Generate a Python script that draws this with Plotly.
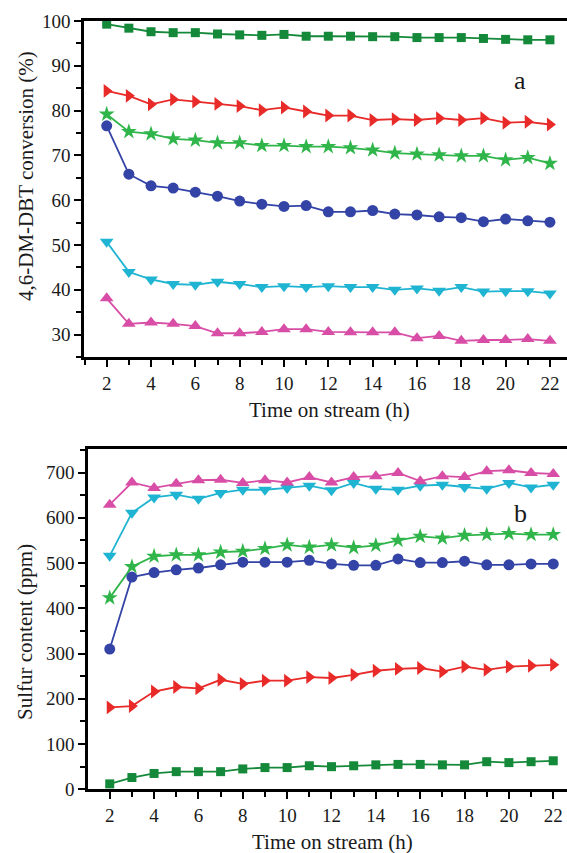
import plotly.graph_objects as go

hours = list(range(2, 23))

# Panel a: 4,6-DM-DBT conversion (%)
conv_sq = [99.3, 98.4, 97.6, 97.4, 97.4, 97.1, 96.9, 96.8, 97.0, 96.6, 96.6, 96.6, 96.5, 96.5, 96.3, 96.3, 96.3, 96.1, 95.9, 95.8, 95.8]
conv_tri_r = [84.4, 83.3, 81.4, 82.5, 82.0, 81.5, 81.0, 80.1, 80.7, 79.8, 78.9, 78.9, 77.9, 78.1, 77.9, 78.3, 77.9, 78.3, 77.3, 77.5, 76.9]
conv_star = [79.2, 75.3, 74.8, 73.7, 73.4, 72.8, 72.8, 72.2, 72.2, 71.95, 71.95, 71.7, 71.2, 70.5, 70.3, 70.1, 69.9, 69.9, 69.0, 69.5, 68.2]
conv_circ = [76.6, 65.8, 63.2, 62.7, 61.8, 60.9, 59.8, 59.1, 58.6, 58.8, 57.4, 57.4, 57.7, 56.9, 56.7, 56.3, 56.1, 55.2, 55.8, 55.4, 55.1]
conv_tri_d = [50.7, 44.0, 42.3, 41.3, 41.1, 41.8, 41.3, 40.6, 40.8, 40.6, 40.8, 40.6, 40.6, 40.0, 40.3, 39.8, 40.6, 39.6, 39.7, 39.7, 39.2]
conv_tri_u = [38.1, 32.4, 32.7, 32.4, 31.9, 30.3, 30.3, 30.6, 31.2, 31.2, 30.6, 30.5, 30.5, 30.5, 29.2, 29.7, 28.6, 28.8, 28.8, 29.0, 28.6]

# Panel b: Sulfur content (ppm)
sulf_sq = [12, 26, 35, 39, 39, 39, 45, 48, 48, 52, 50, 52, 54, 55, 55, 54, 54, 61, 59, 61, 63]
sulf_tri_r = [181, 184, 216, 226, 223, 242, 233, 240, 240, 248, 246, 253, 262, 266, 268, 260, 271, 264, 271, 273, 275]
sulf_star = [423, 492, 515, 518, 518, 524, 526, 532, 540, 535, 540, 534, 539, 550, 559, 555, 561, 563, 565, 563, 563]
sulf_circ = [310, 469, 479, 485, 489, 496, 502, 502, 502, 506, 498, 495, 495, 509, 501, 501, 504, 496, 496, 498, 498]
sulf_tri_d = [516, 611, 645, 651, 642, 655, 662, 662, 666, 671, 661, 677, 664, 662, 671, 673, 668, 664, 677, 667, 673]
sulf_tri_u = [629, 678, 666, 675, 683, 684, 677, 683, 678, 690, 678, 690, 692, 699, 681, 692, 690, 703, 705, 699, 697]

x_ticks = [2, 4, 6, 8, 10, 12, 14, 16, 18, 20, 22]
conv_ticks = [30, 40, 50, 60, 70, 80, 90, 100]
sulf_ticks = [0, 100, 200, 300, 400, 500, 600, 700]

series_styles = [
    ("square", "#15893a", 9),
    ("triangle-right", "#e82a28", 12),
    ("star", "#2fb54a", 12),
    ("circle", "#3343a6", 11),
    ("triangle-down", "#1eb4d2", 12),
    ("triangle-up", "#d84ea6", 12),
]

W, H = 567, 853
FONT = "Liberation Serif"
TXT = "#1a1a1a"

fig = go.Figure()

panel_a = [conv_sq, conv_tri_r, conv_star, conv_circ, conv_tri_d, conv_tri_u]
panel_b = [sulf_sq, sulf_tri_r, sulf_star, sulf_circ, sulf_tri_d, sulf_tri_u]

for vals, (sym, col, sz) in zip(panel_a, series_styles):
    fig.add_trace(go.Scatter(x=hours, y=vals, mode="lines+markers",
                             line=dict(color=col, width=1.8),
                             marker=dict(symbol=sym, color=col, size=sz, line=dict(width=0)),
                             xaxis="x", yaxis="y", showlegend=False, cliponaxis=False))
for vals, (sym, col, sz) in zip(panel_b, series_styles):
    fig.add_trace(go.Scatter(x=hours, y=vals, mode="lines+markers",
                             line=dict(color=col, width=1.8),
                             marker=dict(symbol=sym, color=col, size=sz, line=dict(width=0)),
                             xaxis="x2", yaxis="y2", showlegend=False, cliponaxis=False))

def px_x(p):
    return p / W

def px_y(p):
    return 1 - p / H

axis_common = dict(
    showgrid=False, zeroline=False, showline=True, linecolor="black", linewidth=2.5,
    ticks="outside", ticklen=7, tickwidth=2, tickcolor="black", automargin=False,
    tickfont=dict(family=FONT, size=19, color=TXT),
)

fig.update_layout(
    width=W, height=H,
    margin=dict(l=0, r=0, t=0, b=0, pad=0, autoexpand=False),
    paper_bgcolor="white", plot_bgcolor="white",
    xaxis=dict(domain=[px_x(84), 1], range=[0.976, 22.77], anchor="y",
               tickvals=x_ticks, mirror=True,
               minor=dict(dtick=1, tick0=1, ticks="outside", ticklen=5, tickwidth=2, tickcolor="black"),
               **axis_common),
    yaxis=dict(domain=[px_y(357), px_y(21)], range=[25, 100], anchor="x",
               tickvals=conv_ticks,
               minor=dict(dtick=5, tick0=0, ticks="outside", ticklen=5, tickwidth=2, tickcolor="black"),
               **axis_common),
    xaxis2=dict(domain=[px_x(88), 1], range=[1.02, 22.62], anchor="y2",
                tickvals=x_ticks, mirror=True,
                minor=dict(dtick=1, tick0=1, ticks="outside", ticklen=5, tickwidth=2, tickcolor="black"),
                **axis_common),
    yaxis2=dict(domain=[px_y(789.3), px_y(449)], range=[0, 752], anchor="x2",
                tickvals=sulf_ticks,
                minor=dict(dtick=50, tick0=0, ticks="outside", ticklen=5, tickwidth=2, tickcolor="black"),
                **axis_common),
)

def ann(text, x, y, size, angle=0):
    fig.add_annotation(text=text, x=px_x(x), y=px_y(y), xref="paper", yref="paper",
                       showarrow=False, textangle=angle, xanchor="center", yanchor="middle",
                       font=dict(family=FONT, size=size, color=TXT))

ann("Time on stream (h)", 329, 410, 21)
ann("Time on stream (h)", 332, 842, 21)
ann("4,6-DM-DBT conversion (%)", 26, 176, 21, -90)
ann("Sulfur content (ppm)", 25, 632, 21, -90)
ann("a", 520, 80, 26)
ann("b", 520, 513, 26)

fig.write_html("out.html",
               config={"displayModeBar": False},
               post_script="document.body.style.margin='0';document.body.style.padding='0';document.body.style.overflow='hidden';")
